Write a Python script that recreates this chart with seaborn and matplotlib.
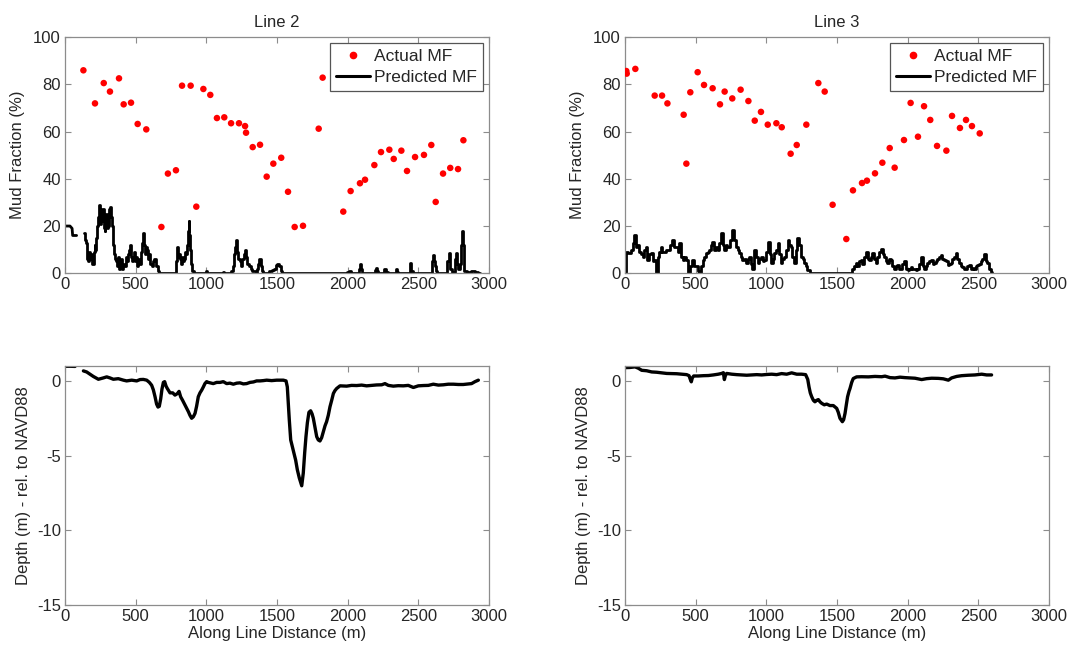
import numpy as np
import pandas as pd
import matplotlib
matplotlib.use("Agg")
import matplotlib.pyplot as plt
from matplotlib.lines import Line2D
import seaborn as sns

# ---------------- data ----------------
TITLES = ["Line 2", "Line 3"]

# Actual mud fraction samples (%)
L2_ACT_X = [130, 212, 274, 318, 382, 415, 467, 514, 575, 682, 728, 785, 828, 889, 929, 979, 1028, 1075,
            1127, 1175, 1231, 1274, 1281, 1328, 1380, 1427, 1474, 1530, 1578, 1625, 1684, 1795, 1823, 1969,
            2021, 2087, 2123, 2189, 2236, 2295, 2326, 2380, 2420, 2477, 2540, 2592, 2623, 2675, 2726, 2781, 2819]
L2_ACT_Y = [85.9, 71.9, 80.5, 76.9, 82.5, 71.5, 72.2, 63.2, 60.9, 19.6, 42.2, 43.6, 79.4, 79.4, 28.2, 78.0,
            75.5, 65.7, 66.0, 63.5, 63.5, 62.3, 59.5, 53.4, 54.4, 40.9, 46.4, 48.9, 34.5, 19.6, 20.1, 61.2,
            82.8, 26.1, 34.8, 38.1, 39.6, 45.8, 51.3, 52.3, 48.4, 51.9, 43.3, 49.2, 50.1, 54.3, 30.2, 42.2,
            44.6, 44.1, 56.3]

L3_ACT_X = [9, 12, 73, 210, 262, 300, 415, 434, 462, 514, 559, 620, 672, 705, 759, 818, 873, 918, 962, 1010,
            1071, 1109, 1172, 1215, 1283, 1368, 1413, 1469, 1566, 1613, 1677, 1712, 1769, 1821, 1873, 1908,
            1974, 2021, 2073, 2116, 2160, 2208, 2274, 2314, 2370, 2413, 2455, 2510]
L3_ACT_Y = [85.6, 84.5, 86.5, 75.2, 75.2, 71.9, 67.1, 46.4, 76.6, 85.1, 79.7, 78.3, 71.5, 76.9, 74.0, 77.7,
            72.9, 64.6, 68.3, 62.9, 63.5, 61.8, 50.6, 54.3, 62.9, 80.5, 76.9, 29.0, 14.5, 35.1, 38.2, 39.2,
            42.3, 46.8, 53.0, 44.7, 56.4, 72.1, 57.8, 70.7, 64.9, 53.9, 51.9, 66.6, 61.5, 64.9, 62.3, 59.2]

# Predicted mud fraction (%), line 2 (two segments)
L2_PRED_A_X = [0, 35, 50, 54, 82]
L2_PRED_A_Y = [20, 20, 19, 16, 16]
L2_PRED_B_X = [134, 145, 153, 160, 165, 175, 182, 189, 195, 200, 206, 212, 218, 224, 232, 238, 243, 248, 254,
               260, 266, 271, 277, 283, 289, 295, 301, 307, 315, 323, 330, 337, 342, 347, 355, 366, 372, 378,
               383, 389, 395, 401, 408, 415, 425, 432, 440, 448, 456, 465, 470, 477, 483, 490, 497, 507, 515,
               523, 531, 538, 546, 554, 560, 566, 573, 580, 585, 590, 598, 606, 613, 620, 627, 637, 644, 653,
               660, 672, 785, 790, 795, 802, 808, 814, 822, 830, 837, 845, 850, 856, 865, 872, 877, 882, 889,
               895, 903, 920, 990, 1002, 1012, 1110, 1120, 1130, 1167, 1180, 1191, 1200, 1208, 1215, 1222,
               1231, 1240, 1250, 1260, 1270, 1278, 1285, 1297, 1305, 1321, 1330, 1344, 1355, 1365, 1372, 1380,
               1388, 1399, 1410, 1427, 1455, 1470, 1486, 1495, 1510, 1520, 1532, 1545, 1990, 2000, 2017, 2030,
               2080, 2086, 2092, 2098, 2105, 2190, 2195, 2200, 2210, 2220, 2255, 2264, 2272, 2300, 2340, 2347,
               2355, 2360, 2440, 2448, 2455, 2470, 2590, 2600, 2606, 2612, 2620, 2628, 2640, 2700, 2710, 2718,
               2724, 2730, 2740, 2755, 2762, 2771, 2778, 2790, 2800, 2810, 2814, 2818, 2823, 2830, 2860, 2889,
               2910, 2936]
L2_PRED_B_Y = [17, 14, 13, 6, 5, 9, 6, 8, 4, 4, 9, 12, 10, 15, 20, 24, 29, 25, 21,
               22, 27, 27, 19, 18, 24, 25, 19, 20, 27, 28, 24, 20, 12, 8, 6, 5, 3, 7,
               2, 2, 5, 6, 2, 4, 3, 7, 5, 8, 10, 12, 7, 5, 6, 9, 5, 7, 3,
               6, 4, 9, 13, 17, 12, 8, 8, 11, 10, 6, 8, 4, 4, 3, 5, 6, 3, 3,
               1, 0, 0, 5, 11, 7, 8, 6, 4, 7, 5, 6, 9, 8, 12, 18, 22, 16, 10,
               4, 1, 0, 0, 1, 0, 0, 0.5, 0, 0, 1, 3, 8, 11, 14, 9,
               6, 5, 3, 6, 8, 10, 7, 4, 3, 2, 1, 1, 0, 2, 4, 6,
               3, 1, 0, 0, 1, 1.5, 2, 3.5, 4, 3, 1, 0, 0, 0.5, 1, 0,
               0, 2, 4, 2, 0, 0, 1.5, 2.4, 1, 0, 0, 1.7, 0.5, 0, 0, 1.7,
               0.5, 0, 0, 4.3, 1, 0, 0, 5, 7.8, 5, 3, 1, 0, 0, 5, 8.5,
               8.5, 2, 0.5, 0.5, 6, 8.5, 4, 2, 4, 12, 18, 12, 8, 1, 0.5, 1,
               0.5, 0]

# Predicted mud fraction (%), line 3
L3_PRED_X = [0, 7, 12, 35, 47, 59, 71, 82, 94, 106, 118, 130, 142, 153, 165, 177, 189, 200, 212, 224, 236,
             248, 259, 271, 283, 295, 307, 323, 337, 354, 366, 377, 389, 401, 413, 425, 436, 453, 467, 484,
             495, 507, 519, 531, 543, 554, 566, 578, 590, 601, 613, 625, 637, 649, 660, 672, 689, 698, 708,
             719, 731, 750, 766, 778, 790, 802, 814, 825, 837, 849, 861, 873, 884, 896, 908, 920, 932, 943,
             955, 967, 979, 991, 1005, 1019, 1028, 1038, 1050, 1061, 1073, 1085, 1097, 1108, 1120, 1132, 1144,
             1156, 1167, 1179, 1191, 1203, 1215, 1226, 1238, 1250, 1262, 1274, 1285, 1297, 1316, 1604, 1615,
             1627, 1639, 1651, 1663, 1674, 1686, 1698, 1715, 1724, 1733, 1745, 1757, 1769, 1781, 1792, 1804,
             1823, 1832, 1840, 1851, 1863, 1875, 1887, 1898, 1910, 1922, 1934, 1946, 1957, 1969, 1981, 1993,
             2005, 2016, 2028, 2040, 2052, 2064, 2075, 2087, 2106, 2115, 2123, 2134, 2146, 2160, 2174, 2184,
             2193, 2205, 2217, 2229, 2240, 2252, 2264, 2276, 2288, 2299, 2311, 2323, 2335, 2347, 2358, 2370,
             2382, 2394, 2406, 2417, 2429, 2441, 2453, 2465, 2476, 2488, 2500, 2512, 2524, 2535, 2547, 2559,
             2571, 2583, 2594]
L3_PRED_Y = [0.7, 5, 9, 8.5, 10, 12.7, 16, 11, 12, 9, 8, 7, 10, 11, 5.7, 8, 8.5, 5, 5.7, 0, 7,
             9, 11, 9, 9, 10, 10, 12, 14, 11, 11, 9, 12.7, 7, 5.7, 7, 5.7, 0, 3, 5.7,
             3, 3, 1, 0, 3, 5.7, 7, 8.5, 9, 10, 12, 13.4, 10, 11, 10, 12.7, 17, 12, 10,
             12, 11, 14, 18.4, 14, 11, 10, 8.5, 7, 5.7, 6, 4.3, 6, 7, 4, 2, 9.9, 7, 4.3,
             6, 7, 5, 5.7, 9, 13.4, 8, 4.3, 6, 8.5, 10, 12.7, 8, 4.3, 6, 7, 10,
             14, 12, 11, 7, 4.3, 10, 15, 12, 7, 6, 4.3, 3, 1.4, 0, 0, 2,
             3, 4.3, 3, 5, 5.7, 4, 7, 8.8, 6, 5.7, 7, 8.5, 6, 4.3, 7, 9.2,
             10.2, 8, 7, 5, 4.3, 6, 5.7, 3, 2, 3, 3.6, 2, 2, 4, 5, 2,
             1.4, 2, 2.8, 2, 2, 1.5, 2, 4, 7, 3, 2, 3, 4.3, 5, 5.7, 4,
             4.3, 5, 6, 7, 7.8, 6, 5.7, 5, 3.6, 4, 4.3, 6, 7, 8.5, 6, 4.3,
             3, 2.5, 2, 2, 3, 3.6, 2, 2.2, 2, 3, 3.6, 4, 5, 6, 8.2, 5,
             4.3, 2, 0.7]

# Depth (m, rel. to NAVD88), line 2 (two segments)
L2_DEP_A_X = [0, 35, 71]
L2_DEP_A_Y = [0.98, 0.98, 0.97]
L2_DEP_B_X = [130, 153, 177, 200, 236, 271, 295, 318, 342, 377, 413, 436, 472, 507, 531, 554, 578, 597, 613,
              625, 637, 648, 658, 667, 677, 686, 696, 705, 715, 724, 743, 762, 778, 795, 807, 818, 832, 849,
              861, 873, 884, 896, 908, 920, 931, 943, 955, 967, 979, 990, 1002, 1014, 1049, 1073, 1097, 1120,
              1144, 1167, 1191, 1215, 1238, 1262, 1285, 1309, 1333, 1356, 1380, 1403, 1427, 1462, 1498, 1545,
              1564, 1573, 1580, 1587, 1597, 1609, 1620, 1632, 1644, 1658, 1675, 1686, 1696, 1705, 1715, 1726,
              1738, 1748, 1757, 1769, 1781, 1792, 1804, 1816, 1828, 1840, 1851, 1863, 1875, 1887, 1899, 1910,
              1922, 1946, 1993, 2028, 2064, 2099, 2134, 2170, 2205, 2241, 2264, 2288, 2323, 2358, 2394, 2429,
              2465, 2500, 2535, 2571, 2606, 2642, 2677, 2712, 2748, 2783, 2818, 2854, 2877, 2901, 2925]
L2_DEP_B_Y = [0.67, 0.6, 0.45, 0.3, 0.11, 0.2, 0.27, 0.2, 0.11, 0.15, 0.05, 0.0, 0.05, 0.0, 0.09, 0.1, 0.05,
              -0.1, -0.29, -0.6, -1.06, -1.55, -1.75, -1.7, -1.2, -0.55, -0.1, -0.05, -0.35, -0.51, -0.8, -0.8,
              -0.95, -0.85, -0.7, -1.06, -1.3, -1.62, -1.85, -2.06, -2.3, -2.5, -2.4, -2.17, -1.7, -1.06, -0.8,
              -0.62, -0.4, -0.18, -0.05, -0.1, -0.18, -0.1, -0.1, -0.05, -0.18, -0.15, -0.22, -0.15, -0.13,
              -0.2, -0.18, -0.1, -0.07, 0.0, 0.0, 0.02, 0.05, 0.02, 0.05, 0.05, 0.0, -0.4, -1.5, -2.6, -3.95,
              -4.4, -4.84, -5.3, -5.95, -6.5, -7.02, -6.17, -4.8, -3.73, -2.8, -2.1, -2.0, -2.2, -2.5, -3.1,
              -3.73, -3.95, -4.02, -3.8, -3.4, -3.0, -2.73, -2.3, -1.73, -1.3, -0.84, -0.65, -0.51, -0.33,
              -0.35, -0.3, -0.31, -0.28, -0.33, -0.3, -0.27, -0.26, -0.18, -0.3, -0.35, -0.32, -0.33, -0.3,
              -0.44, -0.33, -0.31, -0.3, -0.22, -0.28, -0.26, -0.22, -0.22, -0.24, -0.24, -0.2, -0.18, -0.05,
              0.05]

# Depth (m, rel. to NAVD88), line 3
L3_DEP_X = [0, 35, 71, 94, 118, 153, 189, 224, 259, 295, 330, 366, 401, 436, 453, 462, 469, 476, 486, 519,
            554, 590, 625, 660, 684, 696, 703, 710, 719, 755, 790, 825, 861, 896, 932, 967, 1002, 1038, 1073,
            1108, 1144, 1179, 1215, 1250, 1278, 1293, 1302, 1311, 1321, 1333, 1344, 1356, 1368, 1380, 1392,
            1410, 1427, 1450, 1474, 1498, 1509, 1521, 1538, 1547, 1557, 1566, 1575, 1585, 1592, 1604, 1615,
            1639, 1674, 1722, 1769, 1816, 1840, 1875, 1910, 1946, 1981, 2016, 2052, 2099, 2134, 2170, 2217,
            2252, 2288, 2311, 2347, 2382, 2429, 2476, 2524, 2559, 2594]
L3_DEP_Y = [0.89, 0.9, 0.94, 0.85, 0.71, 0.68, 0.6, 0.58, 0.54, 0.5, 0.49, 0.48, 0.45, 0.42, 0.35, 0.1,
            -0.06, 0.2, 0.33, 0.33, 0.35, 0.36, 0.4, 0.45, 0.5, 0.55, 0.09, 0.35, 0.5, 0.45, 0.42, 0.4, 0.38,
            0.4, 0.42, 0.4, 0.43, 0.45, 0.42, 0.49, 0.45, 0.54, 0.45, 0.45, 0.42, 0.1, -0.4, -0.8, -1.06,
            -1.3, -1.4, -1.3, -1.25, -1.4, -1.5, -1.6, -1.55, -1.65, -1.65, -1.84, -2.1, -2.5, -2.73, -2.6,
            -2.17, -1.6, -1.06, -0.7, -0.51, -0.1, 0.16, 0.27, 0.28, 0.27, 0.3, 0.28, 0.32, 0.22, 0.2, 0.25,
            0.22, 0.2, 0.18, 0.09, 0.15, 0.18, 0.17, 0.14, 0.05, 0.2, 0.3, 0.35, 0.38, 0.4, 0.45, 0.4, 0.4]

X_TICKS = [0, 500, 1000, 1500, 2000, 2500, 3000]
MF_TICKS = [0, 20, 40, 60, 80, 100]
DEP_TICKS = [-15, -10, -5, 0]

# ---------------- style ----------------
sns.set_style("white")
plt.rcParams["font.family"] = ["Liberation Sans", "DejaVu Sans"]
plt.rcParams["font.size"] = 12
plt.rcParams["axes.unicode_minus"] = False
TXT = "#262626"
SPINE = "#8c8c8c"

fig = plt.figure(figsize=(10.73, 6.49), dpi=100)
W = 0.3951
axes_pos = {
    "tl": [0.0606, 0.5789, W, 0.3641],
    "tr": [0.5825, 0.5789, W, 0.3641],
    "bl": [0.0606, 0.0678, W, 0.3683],
    "br": [0.5825, 0.0678, W, 0.3683],
}
ax_tl = fig.add_axes(axes_pos["tl"])
ax_tr = fig.add_axes(axes_pos["tr"])
ax_bl = fig.add_axes(axes_pos["bl"])
ax_br = fig.add_axes(axes_pos["br"])


def line(ax, xs, ys, lw, steps=False):
    df = pd.DataFrame({"x": xs, "y": ys})
    kw = dict(drawstyle="steps-mid") if steps else {}
    sns.lineplot(data=df, x="x", y="y", ax=ax, color="black", linewidth=lw,
                 sort=False, estimator=None, legend=False, **kw)


def dots(ax, xs, ys):
    df = pd.DataFrame({"x": xs, "y": ys})
    sns.scatterplot(data=df, x="x", y="y", ax=ax, color="red", s=22,
                    edgecolor="none", legend=False, zorder=3)


def style(ax):
    ax.set_xlim(0, 3000)
    ax.set_xticks(X_TICKS)
    for sp in ax.spines.values():
        sp.set_visible(True)
        sp.set_color(SPINE)
        sp.set_linewidth(0.9)
    ax.tick_params(direction="in", bottom=True, left=True, top=True, right=True,
                   length=4, width=0.8, color=SPINE, labelsize=12, labelcolor=TXT, pad=3)
    ax.set_xlabel("")
    ax.set_ylabel("")


# top panels
dots(ax_tl, L2_ACT_X, L2_ACT_Y)
dots(ax_tr, L3_ACT_X, L3_ACT_Y)

line(ax_tl, L2_PRED_A_X, L2_PRED_A_Y, 2.0)
line(ax_tl, L2_PRED_B_X, L2_PRED_B_Y, 2.0, steps=True)
line(ax_tr, L3_PRED_X, L3_PRED_Y, 2.0, steps=True)

for ax, title in [(ax_tl, TITLES[0]), (ax_tr, TITLES[1])]:
    style(ax)
    ax.set_ylim(0, 100)
    ax.set_yticks(MF_TICKS)
    ax.set_title(title, fontsize=12, color=TXT, pad=7)
    ax.set_ylabel("Mud Fraction (%)", fontsize=12, color=TXT, labelpad=6)
    handles = [Line2D([], [], color="red", marker="o", linestyle="none", markersize=4.5),
               Line2D([], [], color="black", linewidth=2.2)]
    leg = ax.legend(handles, ["Actual MF", "Predicted MF"], loc="upper right",
                    fontsize=12.5, frameon=True, fancybox=False, framealpha=1,
                    borderaxespad=0.35, handlelength=2.0, handletextpad=0.2,
                    borderpad=0.35, labelspacing=0.3)
    leg.get_frame().set_edgecolor("#555555")
    leg.get_frame().set_linewidth(0.9)
    for t in leg.get_texts():
        t.set_color(TXT)

# bottom panels
line(ax_bl, L2_DEP_A_X, L2_DEP_A_Y, 2.4)
line(ax_bl, L2_DEP_B_X, L2_DEP_B_Y, 2.4)
line(ax_br, L3_DEP_X, L3_DEP_Y, 2.4)

for ax in (ax_bl, ax_br):
    style(ax)
    ax.set_ylim(-15, 1)
    ax.set_yticks(DEP_TICKS)
    ax.set_ylabel("Depth (m) - rel. to NAVD88", fontsize=12, color=TXT, labelpad=4)
    ax.set_xlabel("Along Line Distance (m)", fontsize=12, color=TXT, labelpad=1)

fig.savefig("out.png", dpi=100, facecolor="white")
